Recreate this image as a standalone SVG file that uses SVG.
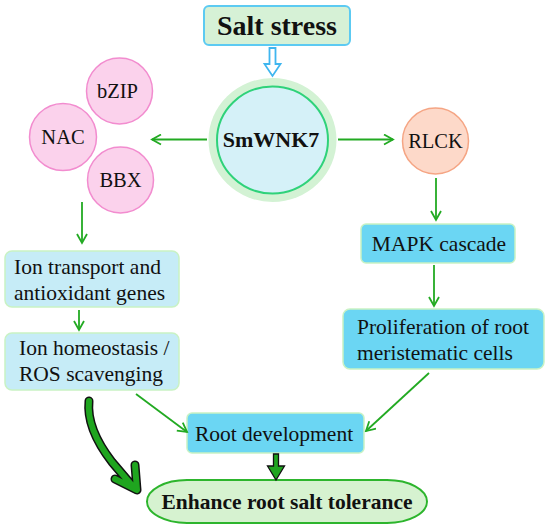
<svg xmlns="http://www.w3.org/2000/svg" width="550" height="528" viewBox="0 0 550 528">
<defs>
<style>
text{font-family:'Liberation Serif','Times New Roman',serif;fill:#111}
.t20{font-size:21.5px}
.t18{font-size:20.5px}
.pink{fill:#fbd2ec;stroke:#f28ccf;stroke-width:1.5}
.blue{fill:#6bd6f3;stroke:#c9f2c4;stroke-width:1.5}
.lblue{fill:#c6ecf7;stroke:#c9f2c4;stroke-width:1.5}
.con{stroke:#22aa22;stroke-width:1.8;fill:none;marker-end:url(#ah)}
</style>
<marker id="ah" viewBox="0 0 12 12" refX="10" refY="6" markerWidth="12" markerHeight="12" markerUnits="userSpaceOnUse" orient="auto">
<path d="M1,1 L10,6 L1,11" fill="none" stroke="#22aa22" stroke-width="1.8"/>
</marker>
</defs>

<g id="salt-stress">
<rect x="204" y="6" width="146" height="39" rx="5" fill="#d6f1d6" stroke="#5ccaf2" stroke-width="2"/>
<text x="277" y="35" text-anchor="middle" style="font-size:28px;font-weight:bold">Salt stress</text>
</g>

<g id="smwnk7">
<ellipse cx="272.5" cy="140" rx="64" ry="62" fill="#d3f2d4"/>
<ellipse cx="272.5" cy="140" rx="55.5" ry="53.5" fill="#d5f1f8" stroke="#2fd27a" stroke-width="2"/>
<text x="271" y="147" text-anchor="middle" style="font-size:22px;font-weight:bold">SmWNK7</text>
</g>

<g id="bzip">
<circle cx="119.5" cy="91" r="33" class="pink"/>
<text x="117.5" y="98" text-anchor="middle" class="t18">bZIP</text>
</g>
<g id="nac">
<circle cx="63" cy="137" r="33.5" class="pink"/>
<text x="63" y="144" text-anchor="middle" class="t18">NAC</text>
</g>
<g id="bbx">
<circle cx="120.5" cy="180" r="33" class="pink"/>
<text x="120.5" y="187" text-anchor="middle" class="t18">BBX</text>
</g>

<g id="rlck">
<circle cx="435.5" cy="141" r="33" fill="#fdd9c9" stroke="#f5a584" stroke-width="1.5"/>
<text x="435.5" y="148" text-anchor="middle" class="t18">RLCK</text>
</g>

<g id="mapk">
<rect x="361" y="224" width="154" height="39" rx="5" class="blue"/>
<text x="439" y="251" text-anchor="middle" class="t20">MAPK cascade</text>
</g>

<g id="proliferation">
<rect x="343" y="309" width="201" height="60" rx="7" class="blue"/>
<text x="357" y="334" class="t20">Proliferation of root</text>
<text x="357" y="360" class="t20">meristematic cells</text>
</g>

<g id="ion-transport">
<rect x="5" y="251" width="174" height="56" rx="7" class="lblue"/>
<text x="14" y="274" class="t20">Ion transport and</text>
<text x="14" y="300" class="t20">antioxidant genes</text>
</g>

<g id="ion-homeostasis">
<rect x="5" y="333" width="174" height="57" rx="7" class="lblue"/>
<text x="19" y="355" class="t20">Ion homeostasis /</text>
<text x="19" y="381" class="t20">ROS scavenging</text>
</g>

<g id="root-development">
<rect x="187" y="413" width="177" height="40" rx="5" class="blue"/>
<text x="274" y="441" text-anchor="middle" class="t20">Root development</text>
</g>

<g id="enhance">
<rect x="147" y="480" width="280" height="43" rx="40" ry="21.5" fill="#d6f2d0" stroke="#2db52d" stroke-width="2"/>
<text x="287" y="509" text-anchor="middle" style="font-size:21.5px;font-weight:bold">Enhance root salt tolerance</text>
</g>

<g id="connectors">
<path d="M269.5,48 h6 v16 h5 l-8,12 l-8,-12 h5 z" fill="#ffffff" stroke="#3fb6ef" stroke-width="1.8" stroke-linejoin="miter"/>
<line x1="207" y1="139.5" x2="152" y2="139.5" class="con"/>
<line x1="338" y1="139.5" x2="393" y2="139.5" class="con"/>
<line x1="436" y1="178" x2="436" y2="220" class="con"/>
<line x1="434" y1="265" x2="434" y2="306" class="con"/>
<line x1="82" y1="202" x2="82" y2="243" class="con"/>
<line x1="79" y1="310" x2="79" y2="330" class="con"/>
<line x1="429" y1="373" x2="366" y2="431" class="con"/>
<line x1="136" y1="394" x2="187" y2="432" class="con"/>
<path d="M273.5,454 h5 v12 h6 l-8.5,14 l-8.5,-14 h6 z" fill="#1fa51f" stroke="#111" stroke-width="1.3"/>
<g fill="none" stroke-linecap="round" stroke-linejoin="round">
<path d="M89,401 C87,420 95,440 112,462 L135,489 M115,479 L137,490 L135,465" stroke="#111" stroke-width="9"/>
<path d="M89,401 C87,420 95,440 112,462 L135,489 M115,479 L137,490 L135,465" stroke="#1fa51f" stroke-width="6"/>
</g>
</g>
</svg>
